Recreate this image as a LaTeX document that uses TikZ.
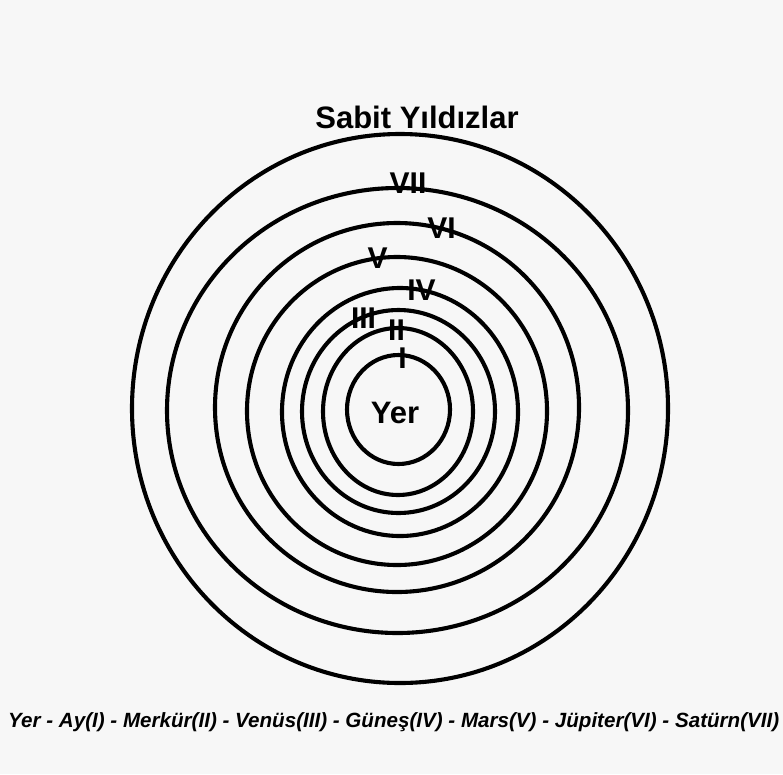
\documentclass[tikz,border=0pt]{standalone}
\usepackage{fontspec}
\setmainfont{Liberation Sans}
\usepackage{xcolor}
\usepackage{tikz}

\definecolor{paper}{RGB}{247,247,247}

\begin{document}
\begin{tikzpicture}[x=1pt, y=-1pt,
    orbit/.style={draw=black, line width=4.1pt},
    numeral/.style={anchor=base, font=\fontsize{30}{32}\selectfont\bfseries, inner sep=0pt},
    title/.style={anchor=base, font=\fontsize{31}{33}\selectfont\bfseries, inner sep=0pt},
    legend/.style={anchor=base west, font=\fontsize{20.6}{22}\selectfont\bfseries\itshape, inner sep=0pt}]
    % ── Fond ────────────────────────────────────────────────────────────────
    \fill[paper] (0,0) rectangle (783,774);
    \useasboundingbox (0,0) rectangle (783,774);
    % ── Küreler (merkez x, merkez y, yarıçap x, yarıçap y) ──────────────────
    % dıştan içe: Sabit Yıldızlar, VII, VI, V, IV, III, II, I
    \foreach \cx/\cy/\rx/\ry in {400/408.5/268/274.5, 397.5/410.5/230.5/222.5,
        397/407.5/182/184.5, 397/411/150/154, 400/412/118/124,
        398.5/411.5/96.5/101.5, 398/411.5/75/83.5, 398.5/409.5/51.5/54.5}
      \draw[orbit] (\cx,\cy) ellipse [x radius=\rx, y radius=\ry];
    % ── Başlık ve merkez ────────────────────────────────────────────────────
    \node[title] (sabit) at (417,128) {Sabit Yıldızlar};
    \node[title] (yer) at (395,423) {Yer};
    % ── Numaralar ───────────────────────────────────────────────────────────
    \node[numeral] (n7) at (408,193) {VII};
    \node[numeral] (n6) at (441.5,238) {VI};
    \node[numeral] (n5) at (377.5,268) {V};
    \node[numeral] (n4) at (421.5,300) {IV};
    \node[numeral] (n3) at (363.5,328) {III};
    \node[numeral] (n2) at (396.5,340) {II};
    \node[numeral] (n1) at (402.5,368) {I};
    % ── Açıklama ────────────────────────────────────────────────────────────
    \node[legend] (aciklama) at (8,727)
      {Yer - Ay(I) - Merkür(II) - Venüs(III) - Güneş(IV) - Mars(V) - Jüpiter(VI) - Satürn(VII)};
\end{tikzpicture}
\end{document}
